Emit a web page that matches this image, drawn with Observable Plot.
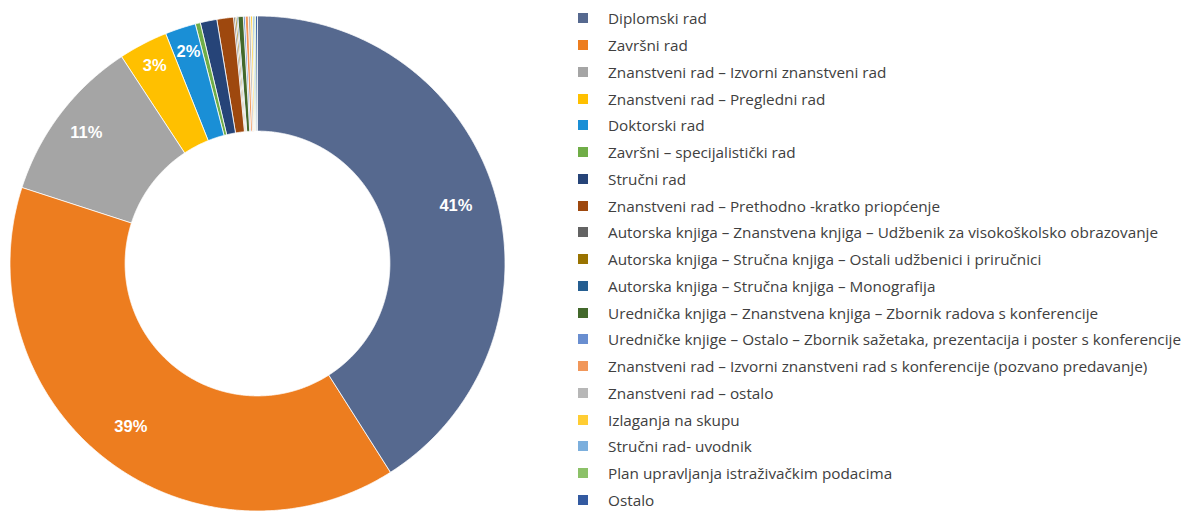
<!DOCTYPE html>
<html>
<head>
<meta charset="utf-8">
<script src="https://cdn.jsdelivr.net/npm/d3@7"></script>
<script src="https://cdn.jsdelivr.net/npm/@observablehq/plot@0.6"></script>
<style>
  html, body { margin: 0; padding: 0; background: #ffffff; }
  #wrap { position: relative; width: 1185px; height: 512px; overflow: hidden; }
  #chart { position: absolute; left: 0; top: 0; }
  #legend { position: absolute; left: 578px; top: 5px; font-family: "Open Sans", "Noto Sans", sans-serif; font-size: 15.3px; color: #404040; }
  .row { display: flex; align-items: center; height: 26.75px; white-space: nowrap; line-height: 12px; }
  .sw { width: 10px; height: 10px; margin-right: 20px; flex: none; }
</style>
</head>
<body>
<div id="wrap"><div id="chart"></div><div id="legend"></div></div>
<script>
const categories = [
  "Diplomski rad",
  "Završni rad",
  "Znanstveni rad – Izvorni znanstveni rad",
  "Znanstveni rad – Pregledni rad",
  "Doktorski rad",
  "Završni – specijalistički rad",
  "Stručni rad",
  "Znanstveni rad – Prethodno -kratko priopćenje",
  "Autorska knjiga – Znanstvena knjiga – Udžbenik za visokoškolsko obrazovanje",
  "Autorska knjiga – Stručna knjiga – Ostali udžbenici i priručnici",
  "Autorska knjiga – Stručna knjiga – Monografija",
  "Urednička knjiga – Znanstvena knjiga – Zbornik radova s konferencije",
  "Uredničke knjige – Ostalo – Zbornik sažetaka, prezentacija i poster s konferencije",
  "Znanstveni rad – Izvorni znanstveni rad s konferencije (pozvano predavanje)",
  "Znanstveni rad – ostalo",
  "Izlaganja na skupu",
  "Stručni rad- uvodnik",
  "Plan upravljanja istraživačkim podacima",
  "Ostalo"
];
const values = [40.9, 38.9, 10.75, 3.2, 2.0, 0.33, 1.08, 1.08, 0.1, 0.1, 0.08, 0.35, 0.12, 0.2, 0.15, 0.12, 0.1, 0.1, 0.1];
const colors = [
  "#56698f", "#ed7d1f", "#a5a5a5", "#ffc000", "#1a8fd6", "#70ad47", "#264478", "#9e480e",
  "#636363", "#997300", "#255e91", "#43682b", "#698ed0", "#f1975a", "#b7b7b7", "#ffcd33",
  "#7cafdd", "#8cc168", "#335aa1"
];

const total = d3.sum(values);
const pie = d3.pie().sort(null).value(d => d.value)(categories.map((name, i) => ({name, value: values[i]})));
const inner = 0.535;
const pts = [];
const step = Math.PI / 720;
for (const a of pie) {
  const n = Math.max(2, Math.ceil((a.endAngle - a.startAngle) / step));
  for (let k = 0; k <= n; k++) {
    const t = a.startAngle + (a.endAngle - a.startAngle) * k / n;
    pts.push({name: a.data.name, x: Math.sin(t), y: Math.cos(t)});
  }
  for (let k = n; k >= 0; k--) {
    const t = a.startAngle + (a.endAngle - a.startAngle) * k / n;
    pts.push({name: a.data.name, x: inner * Math.sin(t), y: inner * Math.cos(t)});
  }
}
const labels = pie.filter(a => a.data.value / total >= 0.015).map(a => {
  const m = (a.startAngle + a.endAngle) / 2;
  const share = a.data.value / total;
  const r = share > 0.3 ? 0.835 : share > 0.05 ? 0.87 : 0.9;
  return {x: r * Math.sin(m), y: r * Math.cos(m), text: Math.round(100 * share) + "%"};
});

const plot = Plot.plot({
  width: 520,
  height: 512,
  marginLeft: 9.5,
  marginRight: 15.5,
  marginTop: 15.5,
  marginBottom: 1.5,
  x: {domain: [-1, 1], axis: null},
  y: {domain: [-1, 1], axis: null},
  color: {domain: categories, range: colors},
  style: {background: "white"},
  marks: [
    Plot.line(pts, {x: "x", y: "y", z: "name", fill: "name", stroke: "white", strokeWidth: 0.8, curve: "linear-closed"}),
    Plot.text(labels, {x: "x", y: "y", text: "text", fill: "white", fontSize: 16.5, fontWeight: "bold", fontFamily: "Liberation Sans, Arial, sans-serif"})
  ]
});
document.getElementById("chart").appendChild(plot);

const legend = document.getElementById("legend");
categories.forEach((name, i) => {
  const row = document.createElement("div");
  row.className = "row";
  const sw = document.createElement("span");
  sw.className = "sw";
  sw.style.background = colors[i];
  const lab = document.createElement("span");
  lab.textContent = name;
  row.appendChild(sw);
  row.appendChild(lab);
  legend.appendChild(row);
});
</script>
</body>
</html>
